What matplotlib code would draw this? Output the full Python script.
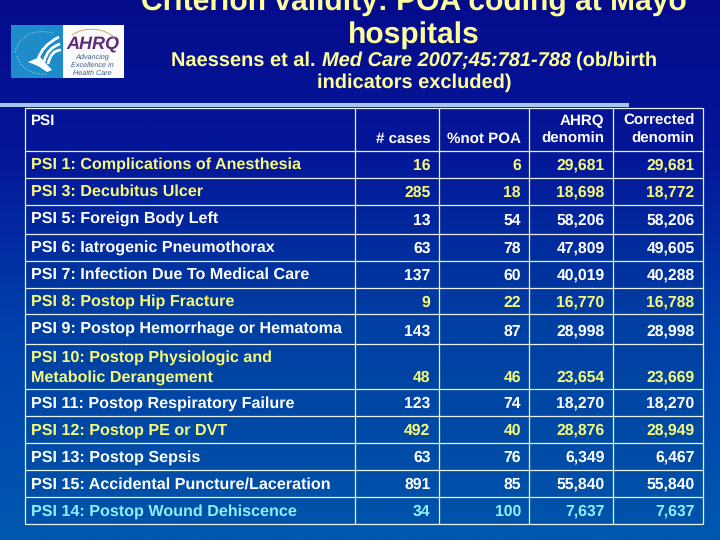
import numpy as np
import matplotlib
matplotlib.use("Agg")
import matplotlib.pyplot as plt
from matplotlib.patches import Rectangle, PathPatch
from matplotlib.path import Path
from matplotlib.colors import LinearSegmentedColormap

plt.rcParams["text.hinting"] = "no_hinting"
plt.rcParams["text.hinting_factor"] = 8

# ---- chart data ----
title_lines = ["Criterion validity: POA coding at Mayo", "hospitals"]
row_header = "PSI"
col_headers = ["# cases", "%not POA", "AHRQ\ndenomin", "Corrected\ndenomin"]
indicators = ["PSI 1: Complications of Anesthesia", "PSI 3: Decubitus Ulcer",
              "PSI 5: Foreign Body Left", "PSI 6: Iatrogenic Pneumothorax",
              "PSI 7: Infection Due To Medical Care", "PSI 8: Postop Hip Fracture",
              "PSI 9: Postop Hemorrhage or Hematoma",
              "PSI 10: Postop Physiologic and\nMetabolic Derangement",
              "PSI 11: Postop Respiratory Failure", "PSI 12: Postop PE or DVT",
              "PSI 13: Postop Sepsis", "PSI 15: Accidental Puncture/Laceration",
              "PSI 14: Postop Wound Dehiscence"]
cases = ["16", "285", "13", "63", "137", "9", "143", "48", "123", "492", "63", "891", "34"]
not_poa = ["6", "18", "54", "78", "60", "22", "87", "46", "74", "40", "76", "85", "100"]
ahrq_denom = ["29,681", "18,698", "58,206", "47,809", "40,019", "16,770", "28,998",
              "23,654", "18,270", "28,876", "6,349", "55,840", "7,637"]
corrected_denom = ["29,681", "18,772", "58,206", "49,605", "40,288", "16,788", "28,998",
                   "23,669", "18,270", "28,949", "6,467", "55,840", "7,637"]

# ---- layout and style ----
YEL, WHT, CYA = "#F6F97A", "#FFFFFF", "#8CF0FF"
row_colors = [YEL, YEL, WHT, WHT, WHT, YEL, WHT, YEL, WHT, YEL, WHT, WHT, CYA]
col_x = [24.5, 355, 438.5, 528.5, 612.5, 703]
row_y = [107.5, 150.5, 177.5, 204.5, 233.5, 260.5, 287.5, 313.5, 343.5, 388.5,
         415.5, 442.5, 469.5, 496.5, 523.5]
label_base = [169, 196, 223, 252, 279, 306, 333, 382, 408, 435, 462, 489, 516]
value_base = [170, 197, 225, 253, 280, 307, 336, 382, 408, 435, 462, 489, 516]
right_x = [430.5, 521, 604.5, 694.5]
TXT = 11.6
NUM = 11.3
HDR = 10.9
FONT = "Liberation Sans"

fig = plt.figure(figsize=(7.2, 5.4), dpi=100)
ax = fig.add_axes([0, 0, 1, 1])
ax.set_xlim(0, 720)
ax.set_ylim(540, 0)
ax.axis("off")

bg = LinearSegmentedColormap.from_list("bg", [(0, "#040C8C"), (.3, "#04189A"), (.6, "#0040AC"), (1, "#0058B0")])
tb = LinearSegmentedColormap.from_list("tb", [(0, "#040C8C"), (.3, "#04189A"), (.6, "#003FA2"), (1, "#0054AA")])
ax.imshow(np.linspace(0, 1, 256)[:, None], cmap=bg, extent=(0, 720, 540, 0), aspect="auto", zorder=0)
ax.imshow(np.linspace(row_y[0] / 540, row_y[-1] / 540, 256)[:, None], cmap=tb, vmin=0, vmax=1,
          extent=(col_x[0], col_x[-1], row_y[-1], row_y[0]), aspect="auto", zorder=1)
ax.set_xlim(0, 720)
ax.set_ylim(540, 0)

# rule under the heading
ax.add_patch(Rectangle((0, 103), 629, 4, fc="#A6C6F2", ec="none", zorder=2))

# heading
for s, y, size in zip(title_lines, [11, 43], [21.6, 21.6]):
    ax.text(414, y, s, ha="center", va="baseline", color="#FFFF99", family=FONT,
            weight="bold", fontsize=size, zorder=3)
ax.text(171, 66, "Naessens et al. ", color="#FFFF99", family=FONT, weight="bold", fontsize=14.4, zorder=3)
ax.text(322, 66, "Med Care 2007;45:781-788", color="#FFFF99", family=FONT, weight="bold",
        style="italic", fontsize=14.4, zorder=3)
ax.text(576, 66, "(ob/birth", color="#FFFF99", family=FONT, weight="bold", fontsize=14.4, zorder=3)
ax.text(414, 88, "indicators excluded)", ha="center", color="#FFFF99", family=FONT, weight="bold",
        fontsize=14.4, zorder=3)

# logo
ax.add_patch(Rectangle((11, 25), 52, 53, fc="#1E8CC8", ec="none", zorder=3))
ax.add_patch(Rectangle((63, 25), 61, 53, fc="#FBFBFB", ec="none", zorder=3))
ax.add_patch(PathPatch(Path([(15, 52), (20, 33), (37, 29), (53, 33)],
                            [Path.MOVETO, Path.CURVE4, Path.CURVE4, Path.CURVE4]),
                       fc="none", ec="#9CCFEA", lw=.8, ls=":", zorder=4))
ax.add_patch(PathPatch(Path([(17, 56), (22, 72), (37, 75), (47, 74)],
                            [Path.MOVETO, Path.CURVE4, Path.CURVE4, Path.CURVE4]),
                       fc="none", ec="#9CCFEA", lw=.8, ls=":", zorder=4))
for x0, y0, x1, y1 in [(38, 60, 59, 37), (44, 62, 60, 44), (48, 64, 61, 50)]:
    ax.add_patch(PathPatch(Path([(x0, y0), (x0 + 3, y0 - 14), (x1, y1)],
                                [Path.MOVETO, Path.CURVE3, Path.CURVE3]),
                           fc="none", ec="white", lw=2.0, zorder=4))
ax.add_patch(PathPatch(Path([(28, 62), (40, 57), (52, 70), (47, 72), (38, 66), (28, 62)]),
                       fc="white", ec="none", zorder=4))
ax.text(93, 49.5, "AHRQ", ha="center", va="baseline", color="#5E2A7E", family=FONT, weight="bold",
        style="italic", fontsize=13, zorder=4)
ax.add_patch(PathPatch(Path([(72, 35), (85, 26), (105, 28), (115, 38)],
                            [Path.MOVETO, Path.CURVE4, Path.CURVE4, Path.CURVE4]),
                       fc="none", ec="#C9A86E", lw=.7, zorder=4))
for s, y in zip(["Advancing", "Excellence in", "Health Care"], [59, 67, 74.5]):
    ax.text(92.5, y, s, ha="center", va="baseline", color="#3C5C8C", family=FONT, style="italic",
            fontsize=5.2, zorder=4)

# table grid
ax.hlines(row_y, col_x[0], col_x[-1], color="#E8F2E8", lw=0.9, zorder=3)
ax.vlines(col_x, row_y[0], row_y[-1], color="#E8F2E8", lw=0.9, zorder=3)

# table header
ax.text(31, 125, row_header, ha="left", va="baseline", color=WHT, family=FONT, weight="bold", fontsize=HDR, zorder=4)
for x, s in zip(right_x, col_headers):
    parts = s.split("\n")
    for line, y in zip(parts[::-1], [143, 125]):
        ax.text(x, y, line, ha="right", va="baseline", color=WHT, family=FONT, weight="bold", fontsize=HDR, zorder=4)

# table body
for i, label in enumerate(indicators):
    c = row_colors[i]
    parts = label.split("\n")
    if len(parts) == 2:
        ax.text(31, label_base[i] - 20, parts[0], ha="left", va="baseline", color=c, family=FONT, weight="bold", fontsize=TXT, zorder=4)
        ax.text(31, label_base[i], parts[1], ha="left", va="baseline", color=c, family=FONT, weight="bold", fontsize=TXT, zorder=4)
    else:
        ax.text(31, label_base[i], label, ha="left", va="baseline", color=c, family=FONT, weight="bold", fontsize=TXT, zorder=4)
    for x, col in zip(right_x, [cases, not_poa, ahrq_denom, corrected_denom]):
        ax.text(x, value_base[i], col[i], ha="right", va="baseline", color=c, family=FONT, weight="bold", fontsize=NUM, zorder=4)

fig.savefig("out.png", dpi=100)
